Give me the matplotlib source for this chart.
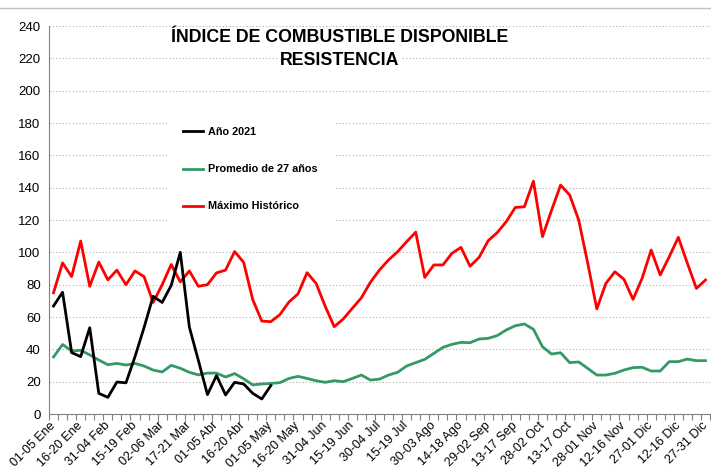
import numpy as np
import matplotlib
matplotlib.use("Agg")
import matplotlib.pyplot as plt
from matplotlib.lines import Line2D

plt.rcParams['font.family'] = ['Liberation Sans', 'DejaVu Sans']

# Etiquetas de péntadas (cada 3)
tick_labels = ["01-05 Ene", "16-20 Ene", "31-04 Feb", "15-19 Feb", "02-06 Mar", "17-21 Mar",
               "01-05 Abr", "16-20 Abr", "01-05 May", "16-20 May", "31-04 Jun", "15-19 Jun",
               "30-04 Jul", "15-19 Jul", "30-03 Ago", "14-18 Ago", "29-02 Sep", "13-17 Sep",
               "28-02 Oct", "13-17 Oct", "28-01 Nov", "12-16 Nov", "27-01 Dic", "12-16 Dic",
               "27-31 Dic"]

anio_2021 = [66.8, 75.3, 38, 35.5, 53.4, 12.8, 10.3, 19.8, 19.3, 35.5, 53.5, 72.8, 69,
             79.6, 100, 53.8, 33.1, 12, 23.8, 11.8, 19.6, 18.6, 12.8, 9.3, 17.6]

promedio = [35.3, 43, 39, 39.4, 36.6, 33.4, 30.5, 31.3, 30.3, 31.3, 29.7, 27.2, 26,
            30.1, 28.3, 25.8, 24.2, 25.3, 25.3, 22.9, 25, 21.8, 18, 18.6, 18.9,
            19.4, 22, 23.3, 22, 20.6, 19.6, 20.6, 20, 22, 24.1, 21, 21.6, 24.1, 25.8,
            29.7, 31.8, 33.8, 37.5, 41.2, 43.1, 44.3, 44.1, 46.4, 46.8, 48.5, 52, 54.6,
            55.7, 52.4, 41.6, 37.1, 37.9, 31.8, 32.2, 28.2, 24.1, 24.1, 25.2, 27.2, 28.7,
            28.9, 26.6, 26.6, 32.4, 32.4, 34, 33, 33]

maximo = [75, 93.5, 85, 107, 79, 94, 83, 89, 80, 88.5, 85, 69, 80, 92.5, 81.7, 88.5,
          79, 80, 87.3, 89, 100.5,
          93.8, 70.8, 57.5, 57.1, 61.5, 69.3, 74.3, 87.4, 80.8, 66.7, 54, 58.8, 65.4,
          71.9, 81.5, 89.1, 95.3, 100.4, 106.6, 112.5, 84.5, 92.2, 92.2, 99.4, 103.1,
          91.4, 96.9, 107.2, 112.2, 119, 127.8, 128.2, 144, 109.7, 126, 141.6, 135.5,
          120, 93.2, 65, 80.8, 88, 83.3, 70.9, 83.9, 101.4, 86, 97.3, 109.3, 93.2,
          77.7, 82.9]

n = len(maximo)
x = np.arange(n)

fig = plt.figure(figsize=(7.11, 4.73), dpi=100)
ax = fig.add_axes([0.0689, 0.1247, 0.9297, 0.8203])

ax.plot(x[:len(anio_2021)], anio_2021, color='black', lw=2.0, zorder=4)
ax.plot(x, promedio, color='#339966', lw=2.0, zorder=3)
ax.plot(x, maximo, color='#FF0000', lw=2.0, zorder=3)

ax.set_xlim(-0.5, n - 0.5)
ax.set_ylim(0, 240)
ax.set_yticks(np.arange(0, 241, 20))
ax.grid(axis='y', linestyle=(0, (1, 2)), color='#b0b0b0', lw=0.8)
ax.set_axisbelow(True)

ax.set_xticks(x[::3])
ax.set_xticklabels(tick_labels, rotation=45, ha='right', va='center', rotation_mode='anchor')
ax.set_xticks(np.arange(-0.5, n, 1), minor=True)
ax.tick_params(axis='x', which='major', length=0, pad=7, labelsize=9, colors='black')
ax.tick_params(axis='x', which='minor', length=4, color='#808080', width=0.8)
ax.tick_params(axis='y', length=0, pad=6, labelsize=9.5)

for s in ['top', 'right']:
    ax.spines[s].set_visible(False)
ax.spines['left'].set_color('#808080')
ax.spines['bottom'].set_color('#808080')

handles = [Line2D([], [], color='black', lw=2.0),
           Line2D([], [], color='#339966', lw=2.0),
           Line2D([], [], color='#FF0000', lw=2.0)]
leg = fig.legend(handles, ['Año 2021', 'Promedio de 27 años', 'Máximo Histórico'],
                 loc='upper left', bbox_to_anchor=(167 / 711, 1 - 111 / 473),
                 prop={'weight': 'bold', 'size': 7.8}, frameon=True, facecolor='white',
                 edgecolor='none', framealpha=1, fancybox=False, handlelength=1.8,
                 handletextpad=0.5, labelspacing=2.5, borderpad=1.5, borderaxespad=0)

title_kw = dict(ha='center', va='baseline', fontsize=12.8, fontweight='bold',
                bbox=dict(facecolor='white', edgecolor='none', pad=1))
fig.text(340 / 711, 1 - 42 / 473, 'ÍNDICE DE COMBUSTIBLE DISPONIBLE', **title_kw)
fig.text(340 / 711, 1 - 65 / 473, 'RESISTENCIA', **title_kw)

fig.add_artist(Line2D([0, 1], [1 - 8 / 473, 1 - 8 / 473], color='#c0c0c0', lw=1.0))

fig.savefig('out.png', dpi=100)
